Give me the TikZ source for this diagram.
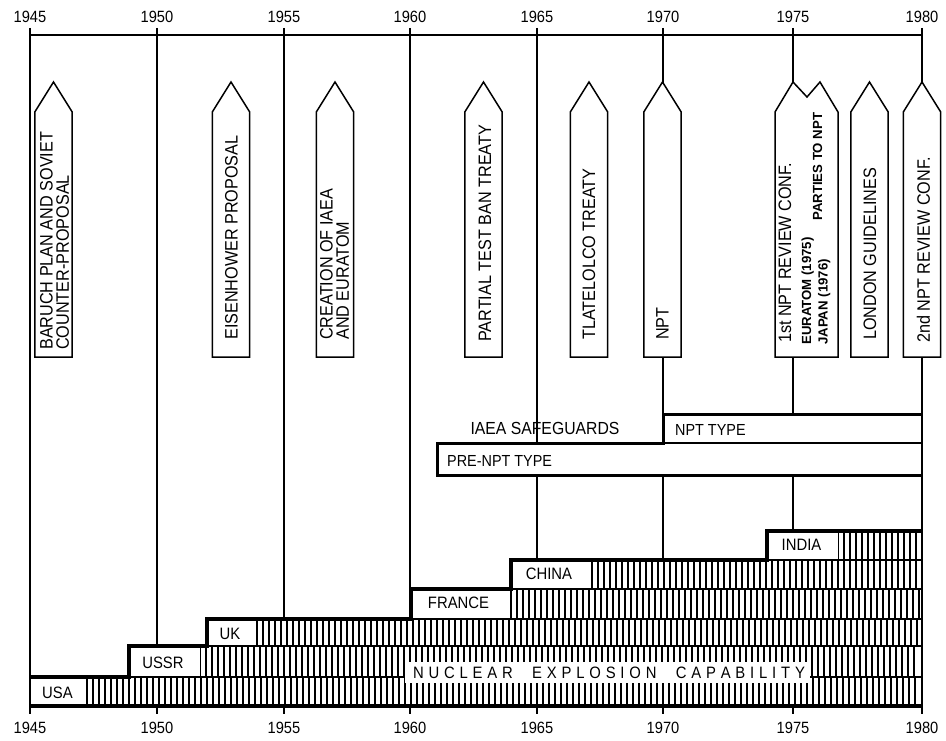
\documentclass[tikz,border=0pt]{standalone}
\usepackage{fontspec}
\setmainfont{Liberation Sans}[FakeStretch=0.9]
\newfontfamily\plainfont{Liberation Sans}
\begin{document}
\begin{tikzpicture}[x=1pt,y=-1pt,
  yearline/.style={line width=1.3pt},
  axisline/.style={line width=1.6pt},
  thickline/.style={line width=3.2pt, line join=miter},
  arrowbox/.style={draw, fill=white, line width=1.5pt, line join=miter},
  evtext/.style={rotate=90, anchor=west, inner sep=0pt, align=left, font=\fontsize{18}{16.3}\selectfont},
  evbold/.style={rotate=90, anchor=west, inner sep=0pt, align=left, font=\plainfont\fontsize{13.2}{16.5}\selectfont\bfseries},
  yearlabel/.style={inner sep=0pt, font=\fontsize{16.3}{16}\selectfont},
  barlabel/.style={inner sep=0pt, anchor=west, font=\fontsize{16}{16}\selectfont},
  steplabel/.style={inner sep=0pt, font=\fontsize{16.5}{16}\selectfont},
  hatchline/.style={line width=1.8pt},
  rowline/.style={line width=1.3pt},
  whitebox/.style={fill=white, draw=none}
]
\useasboundingbox (0,0) rectangle (946,741);

% year lines, ticks and labels
\foreach \yr/\x/\yb in {1945/30/706, 1950/157/646, 1955/284/619, 1960/410/589, 1965/537/560, 1970/663/560, 1975/793/531, 1980/922/706} {
  \draw[yearline] (\x,28) -- (\x,\yb);
  \draw[yearline] (\x,706) -- (\x,714);
  \node[yearlabel] (top\yr) at (\x,17) {\yr};
  \node[yearlabel] (bot\yr) at (\x,728) {\yr};
}
\draw[axisline] (30,35) -- (922,35);

% event arrows
\newcommand\evarrow[1]{\draw[arrowbox] ({#1-18.7},357) -- ({#1-18.7},112) -- (#1,82) -- ({#1+18.7},112) -- ({#1+18.7},357) -- cycle;}
\evarrow{53.5}
\evarrow{231}
\evarrow{335}
\evarrow{483.5}
\evarrow{589}
\evarrow{662.5}
\evarrow{869.5}
\evarrow{922}
\draw[arrowbox] (775,357) -- (775,112) -- (793,82) -- (807,97) -- (820,82) -- (838,112) -- (838,357) -- cycle;

\node[evtext] (baruch) at (54.5,350) {BARUCH PLAN AND SOVIET\\COUNTER-PROPOSAL};
\node[evtext] (eisen) at (231.5,340) {EISENHOWER PROPOSAL};
\node[evtext] (creation) at (334.5,340) {CREATION OF IAEA\\AND EURATOM};
\node[evtext] (ptbt) at (485,342) {PARTIAL TEST BAN TREATY};
\node[evtext] (tlat) at (589,340) {TLATELOLCO TREATY};
\node[evtext] (npt) at (662.5,340) {NPT};
\node[evtext] (rev1) at (785,343) {1st NPT REVIEW CONF.};
\node[evbold] (parties) at (816,345) {EURATOM (1975)\\JAPAN (1976)};
\node[evbold] (partiesto) at (817.5,221) {PARTIES TO NPT};
\node[evtext] (london) at (870,340) {LONDON GUIDELINES};
\node[evtext] (rev2) at (923.5,343) {2nd NPT REVIEW CONF.};

% IAEA safeguards bars
\fill[white] (663,414) rectangle (922,443);
\fill[white] (437,443) rectangle (922,475);
\draw[rowline] (663,443) -- (922,443);
\draw[yearline] (922,414) -- (922,475);
\draw[line width=3pt, line join=miter] (922,414) -- (663,414) -- (663,443) -- (437,443) -- (437,475) -- (922,475);
\node[inner sep=0pt, font=\fontsize{17.5}{16}\selectfont] (iaea) at (545,428) {IAEA SAFEGUARDS};
\node[barlabel] (npttype) at (675,430) {NPT TYPE};
\node[barlabel] (prenpt) at (447,461) {PRE-NPT TYPE};

% hatched nuclear capability staircase
\foreach \ya/\yb/\xs/\off in {677/706/30/3, 646/677/129/5, 619/646/207/2, 589/619/411/4, 560/589/511/3, 531/560/767/5} {
  \pgfmathsetmacro\xa{\xs+\off}
  \pgfmathsetmacro\xb{\xa+6}
  \foreach \x in {\xa,\xb,...,919} \draw[hatchline] (\x,\ya) -- (\x,\yb);
}
\draw[rowline] (129,677) -- (922,677);
\draw[rowline] (207,646) -- (922,646);
\draw[rowline] (411,619) -- (922,619);
\draw[rowline] (511,589) -- (922,589);
\draw[rowline] (767,560) -- (922,560);
\draw[yearline] (922,531) -- (922,706);

% white label boxes
\fill[whitebox] (32,679) rectangle (83,704);
\fill[whitebox] (131,648) rectangle (200,675.5);
\fill[whitebox] (209,621) rectangle (253,644.5);
\fill[whitebox] (413,591) rectangle (506,617.5);
\fill[whitebox] (513,562) rectangle (590,587.5);
\fill[whitebox] (769,533) rectangle (838,558.5);
\fill[whitebox] (405,662) rectangle (810,683);

\node[steplabel] (usa) at (57.5,693) {USA};
\node[steplabel] (ussr) at (163,663) {USSR};
\node[steplabel] (uk) at (230,634) {UK};
\node[steplabel] (france) at (458.5,603) {FRANCE};
\node[steplabel] (china) at (549,574) {CHINA};
\node[steplabel] (india) at (801.5,545) {INDIA};
\node[steplabel] (nuclear) at (609,673) {\hbox to 392pt{N\hfill U\hfill C\hfill L\hfill E\hfill A\hfill R\hfill\hfill\hfill\hfill E\hfill X\hfill P\hfill L\hfill O\hfill S\hfill I\hfill O\hfill N\hfill\hfill\hfill\hfill C\hfill A\hfill P\hfill A\hfill B\hfill I\hfill L\hfill I\hfill T\hfill Y}};

% thick outline and bottom axis
\draw[thickline] (30,677) -- (129,677) -- (129,646) -- (207,646) -- (207,619) -- (411,619) -- (411,589) -- (511,589) -- (511,560) -- (767,560) -- (767,531) -- (922,531);
\draw[thickline] (30,706) -- (922,706);
\end{tikzpicture}
\end{document}
